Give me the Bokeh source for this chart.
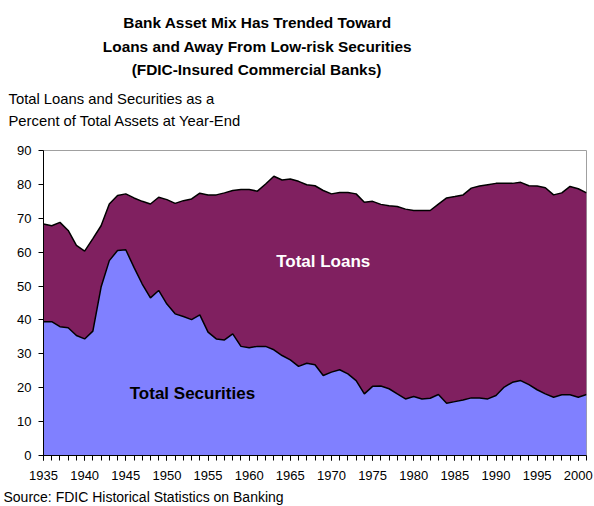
from bokeh.plotting import figure
from bokeh.models import Range1d, SingleIntervalTicker, Label, ColumnDataSource
from bokeh.layouts import column
from bokeh.embed import file_html
from bokeh.resources import INLINE
from bokeh.core.properties import value

# ---- data ----
years = list(range(1935, 2002))

total_pct = [68.3, 67.8, 68.8, 66.4, 62.0, 60.3, 64.0, 67.8, 74.2, 76.7,
             77.2, 76.0, 75.0, 74.2, 76.2, 75.5, 74.4, 75.2, 75.7, 77.4,
             76.9, 76.9, 77.5, 78.2, 78.5, 78.5, 78.0, 80.1, 82.4, 81.3,
             81.6, 80.9, 79.9, 79.6, 78.2, 77.2, 77.6, 77.6, 77.2, 74.7,
             75.0, 74.1, 73.7, 73.5, 72.7, 72.3, 72.3, 72.3, 74.2, 76.0,
             76.4, 76.9, 78.9, 79.5, 79.9, 80.3, 80.3, 80.3, 80.6, 79.6,
             79.5, 79.0, 76.9, 77.5, 79.4, 78.7, 77.5]

securities_pct = [39.5, 39.5, 38.0, 37.7, 35.4, 34.4, 36.7, 49.7, 57.5, 60.5,
                  60.7, 55.5, 50.6, 46.5, 48.7, 44.7, 41.8, 41.0, 40.1, 41.5,
                  36.4, 34.4, 34.1, 35.9, 32.2, 31.8, 32.2, 32.2, 31.2, 29.5,
                  28.2, 26.3, 27.2, 26.8, 23.6, 24.6, 25.3, 24.1, 22.1, 18.2,
                  20.4, 20.5, 19.7, 18.2, 16.7, 17.4, 16.7, 16.9, 18.0, 15.4,
                  15.9, 16.4, 17.0, 17.0, 16.7, 17.7, 20.2, 21.6, 22.1, 20.9,
                  19.4, 18.2, 17.2, 17.9, 17.9, 17.2, 18.0]

y_ticks = [0, 10, 20, 30, 40, 50, 60, 70, 80, 90]

title_lines = ["Bank Asset Mix Has Trended Toward",
               "Loans and Away From Low-risk Securities",
               "(FDIC-Insured Commercial Banks)"]
ylabel_lines = ["Total Loans and Securities as a",
                "Percent of Total Assets at Year-End"]
source_text = "Source: FDIC Historical Statistics on Banking"

LOANS_COLOR = "#802060"
SEC_COLOR = "#8080FF"
FONT = "Liberation Sans"
W = 594


def blank_panel(h):
    f = figure(width=W, height=h, output_backend="svg", toolbar_location=None,
               x_range=Range1d(0, W), y_range=Range1d(h, 0),
               min_border=0, x_axis_location=None, y_axis_location=None,
               background_fill_color="white", border_fill_color="white")
    f.frame_align = False
    f.outline_line_color = None
    f.xgrid.visible = False
    f.ygrid.visible = False
    return f


# ---- header: title and y-axis caption ----
top = blank_panel(140)
top.text(x=[257, 257, 256], y=[22, 45.5, 69], text=title_lines,
         text_align="center", text_baseline="alphabetic",
         text_font=value(FONT), text_font_size="15.4px",
         text_font_style="bold", text_color="black")
top.text(x=[8, 8], y=[98.5, 120.5], text=ylabel_lines,
         text_align="left", text_baseline="alphabetic",
         text_font=value(FONT), text_font_size="14.8px", text_color="black")

# ---- main chart ----
src = ColumnDataSource(data=dict(year=years, total=total_pct,
                                 sec=securities_pct,
                                 zero=[0] * len(years)))

p = figure(width=W, height=345, output_backend="svg", toolbar_location=None,
           x_range=Range1d(1935, 2001), y_range=Range1d(0, 90),
           min_border_left=43, min_border_right=8,
           min_border_top=10, min_border_bottom=30,
           background_fill_color="white", border_fill_color="white")
p.frame_align = False

p.varea(x="year", y1="zero", y2="sec", source=src, fill_color=SEC_COLOR)
p.varea(x="year", y1="sec", y2="total", source=src, fill_color=LOANS_COLOR)
p.line(x="year", y="sec", source=src, line_color="black", line_width=1.5)
p.line(x="year", y="total", source=src, line_color="black", line_width=1.5)

p.xgrid.visible = False
p.ygrid.visible = False
p.outline_line_color = "#A0A0A0"
p.outline_line_width = 1

xa = p.xaxis[0]
xa.ticker = SingleIntervalTicker(interval=5, num_minor_ticks=5)
xa.major_tick_out = 5
xa.major_tick_in = 0
xa.minor_tick_out = 5
xa.minor_tick_in = 0
xa.axis_line_color = "black"
xa.major_tick_line_color = "black"
xa.minor_tick_line_color = "black"
xa.major_label_text_font = FONT
xa.major_label_text_font_size = "13px"
xa.major_label_text_color = "black"
xa.major_label_standoff = 10

ya = p.yaxis[0]
ya.ticker = y_ticks
ya.major_tick_out = 5
ya.major_tick_in = 0
ya.minor_tick_line_color = None
ya.axis_line_color = "black"
ya.major_tick_line_color = "black"
ya.major_label_text_font = FONT
ya.major_label_text_font_size = "13px"
ya.major_label_text_color = "black"
ya.major_label_standoff = 7

p.add_layout(Label(x=1969.0, y=57.3, text="Total Loans", text_align="center",
                   text_baseline="middle", text_font=FONT,
                   text_font_size="17px", text_font_style="bold",
                   text_color="white"))
p.add_layout(Label(x=1953.1, y=18.2, text="Total Securities", text_align="center",
                   text_baseline="middle", text_font=FONT,
                   text_font_size="17px", text_font_style="bold",
                   text_color="black"))

# ---- footer: source ----
bottom = blank_panel(21)
bottom.text(x=[3], y=[11], text=[source_text], text_align="left",
            text_baseline="alphabetic", text_font=value(FONT),
            text_font_size="14px", text_color="black")

layout = column(top, p, bottom, spacing=0)
open("out.html", "w").write(file_html(layout, INLINE))
